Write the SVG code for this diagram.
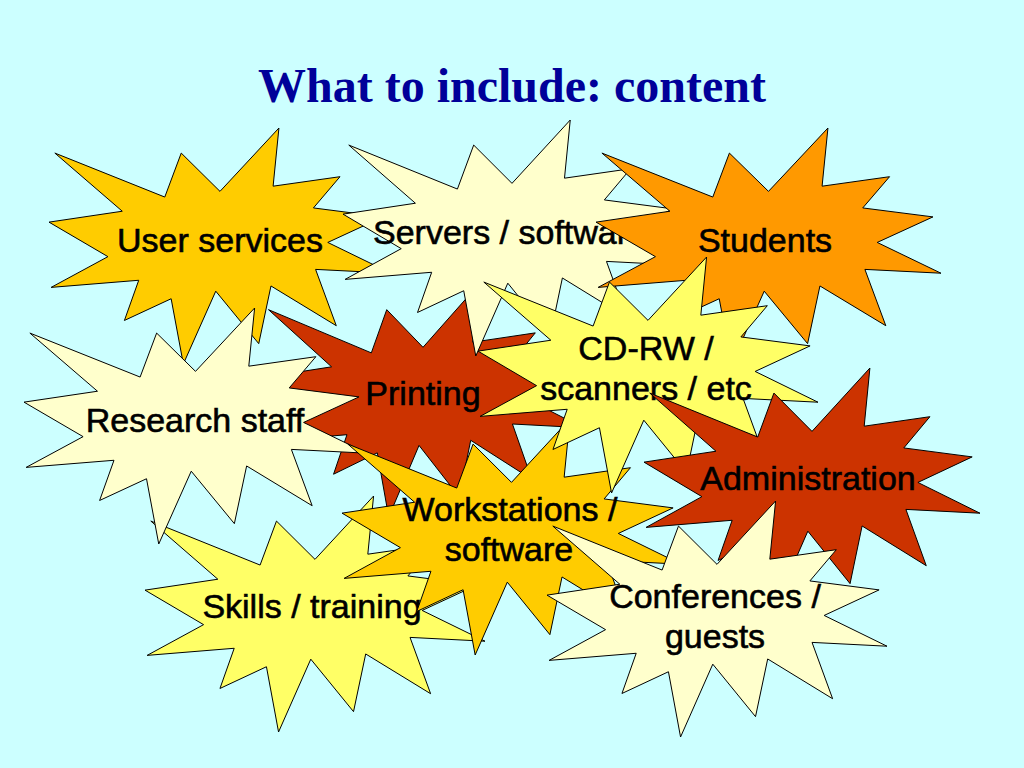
<svg xmlns="http://www.w3.org/2000/svg" xmlns:xlink="http://www.w3.org/1999/xlink" width="1024" height="768" viewBox="0 0 1024 768">
<style>
.bg{fill:#CCFFFF}
.seal{stroke:#000;stroke-width:1;stroke-linejoin:miter}
.gold{fill:#FFCC00}
.cream{fill:#FFFFCC}
.orange{fill:#FF9900}
.red{fill:#CC3300}
.yellow{fill:#FFFF66}
.lbl{font-family:"Liberation Sans",Arial,sans-serif;font-size:34px;fill:#000;stroke:#000;stroke-width:0.6;text-anchor:middle}
.title{font-family:"Liberation Serif","Times New Roman",serif;font-size:48px;font-weight:bold;fill:#000099;text-anchor:middle}
</style>
<defs>
<polygon id="seal" vector-effect="non-scaling-stroke" points="10800,5800 14522,0 14155,5325 18380,4457 16702,7315 21097,8137 17607,10475 21600,13290 16837,12942 18145,18095 14020,14457 13247,19737 10532,14935 8485,21600 7715,15627 4762,17617 5667,13937 135,14587 3722,11775 0,8615 4627,7617 370,2295 7312,6320 8352,2295"/>
</defs>
<rect class="bg" x="0" y="0" width="1024" height="768"/>
<text id="title" class="title" x="512" y="102">What to include: content</text>

<g id="user-services">
<use xlink:href="#seal" href="#seal" class="seal gold" transform="translate(49,128) scale(0.015833,0.010926)"/>
<text class="lbl" x="220" y="252">User services</text>
</g>
<g id="printing">
<use xlink:href="#seal" href="#seal" class="seal red" transform="translate(263,285) scale(0.014815,0.010741)"/>
<text class="lbl" x="423" y="405">Printing</text>
</g>
<g id="servers-software">
<use xlink:href="#seal" href="#seal" class="seal cream" transform="translate(343,120) scale(0.015648,0.010926)"/>
<text class="lbl" x="510" y="244">Servers / software</text>
</g>
<g id="skills-training">
<use xlink:href="#seal" href="#seal" class="seal yellow" transform="translate(145,496) scale(0.015741,0.010926)"/>
<text class="lbl" x="312" y="618">Skills / training</text>
</g>
<g id="research-staff">
<use xlink:href="#seal" href="#seal" class="seal cream" transform="translate(24,308) scale(0.015880,0.010926)"/>
<text class="lbl" x="195" y="432">Research staff</text>
</g>
<g id="students">
<use xlink:href="#seal" href="#seal" class="seal orange" transform="translate(596,128) scale(0.015972,0.010926)"/>
<text class="lbl" x="765" y="252">Students</text>
</g>
<g id="workstations-software">
<use xlink:href="#seal" href="#seal" class="seal gold" transform="translate(342,419) scale(0.015694,0.010926)"/>
<text class="lbl" x="510" y="521">Workstations /</text>
<text class="lbl" x="509" y="561">software</text>
</g>
<g id="cdrw-scanners">
<use xlink:href="#seal" href="#seal" class="seal yellow" transform="translate(478,257) scale(0.015741,0.010926)"/>
<text class="lbl" x="646" y="360">CD-RW /</text>
<text class="lbl" x="646" y="400">scanners / etc</text>
</g>
<g id="administration">
<use xlink:href="#seal" href="#seal" class="seal red" transform="translate(644,368) scale(0.015556,0.010926)"/>
<text class="lbl" x="808" y="490">Administration</text>
</g>
<g id="conferences-guests">
<use xlink:href="#seal" href="#seal" class="seal cream" transform="translate(547,501) scale(0.015741,0.010926)"/>
<text class="lbl" x="715" y="608">Conferences /</text>
<text class="lbl" x="715" y="648">guests</text>
</g>
<g id="connectors"></g>
</svg>
